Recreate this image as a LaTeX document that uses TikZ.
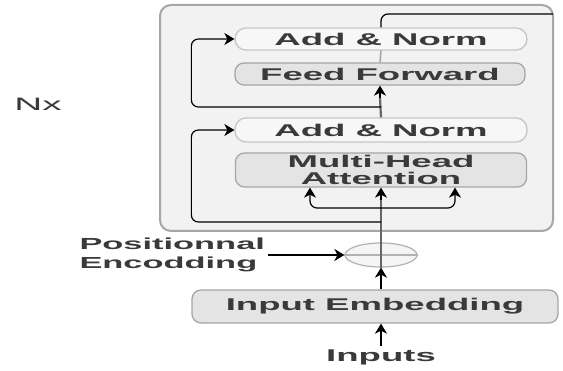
\documentclass[tikz,border=0pt]{standalone}
\usepackage{fontspec}
\newfontfamily\wf[FakeStretch=2.15]{Liberation Sans}
\usetikzlibrary{arrows.meta,shapes.geometric,calc}
\definecolor{txt}{HTML}{3A3A3A}
\definecolor{boxbg}{HTML}{F2F2F2}
\definecolor{lnorm}{HTML}{F7F7F7}
\definecolor{dnorm}{HTML}{E4E4E4}
\begin{document}
\begin{tikzpicture}[x=1pt,y=-1pt,
  lbl/.style={font=\wf\bfseries\fontsize{17}{17}\selectfont, text=txt},
  normbox/.style={lbl, draw=gray!45, line width=1.3pt, fill=lnorm, rounded corners=11pt, minimum height=22pt, inner sep=0pt},
  subbox/.style={lbl, draw=gray!70, line width=1.3pt, fill=dnorm, rounded corners=9pt, inner sep=0pt},
  tip/.style={-{Stealth[length=10pt,width=12pt,inset=3pt]}},
  mainln/.style={draw=gray!80!black, line width=2.2pt},
  resln/.style={draw=black, line width=1.2pt, rounded corners=7pt}
]
\useasboundingbox (0,0) rectangle (563,371);
\fill[white] (0,0) rectangle (563,371);
% outer block
\draw[gray!70, line width=2pt, fill=boxbg, rounded corners=11pt] (160,5) rectangle (553,231);
% nodes
\node[normbox, minimum width=292pt] (an1) at (381,39) {Add \& Norm};
\node[subbox, minimum width=290pt, minimum height=22pt] (ff) at (380,74) {Feed Forward};
\node[normbox, minimum width=292pt, minimum height=24pt] (an2) at (381,130) {Add \& Norm};
\node[subbox, minimum width=291pt, minimum height=34pt, align=center] (mha) at (381,170) {Multi-Head\\Attention};
\node[ellipse, draw=gray!60, line width=1.2pt, fill=gray!8, minimum width=72pt, minimum height=24pt, inner sep=0pt] (pe) at (381,255) {};
\node[subbox, minimum width=366pt, minimum height=33pt] (ie) at (375,306.5) {Input Embedding};
\node[lbl] (inp) at (381,357) {Inputs};
\node[lbl, anchor=west, align=left, font=\wf\bfseries\fontsize{16}{19}\selectfont] (pos) at (76,255) {Positionnal\\Encodding};
\node[lbl, font=\wf\fontsize{18}{18}\selectfont, text=txt] (nx) at (38,104) {Nx};
% coordinates
\coordinate (b1) at (381,208);
\coordinate (r1) at (381,222);
\coordinate (r2) at (381,107);
\coordinate (outr) at (553,14);
% plus sign in ellipse
\draw[gray!60, line width=1.2pt] (pe.west) -- (pe.east);
% positional encoding arrow
\draw[black, line width=1.2pt, tip] (pos.east |- pe.west) -- (pe.west);
% main path
\draw[line width=2.2pt, tip] (inp.north) -- (inp.north |- ie.south);
\draw[line width=2.2pt, tip] (pe.south |- ie.north) -- (pe.south);
\draw[mainln] (pe.south) -- (pe.north);
\draw[mainln] (pe.north) -- ([yshift=-12pt]mha.south);
\draw[black, line width=1.2pt, tip] ([yshift=-12pt]mha.south) -- (mha.south);
\draw[resln, tip] (b1) -| ([xshift=-71pt]mha.south);
\draw[resln, tip] (b1) -| ([xshift=74pt]mha.south);
\draw[resln, tip] (r1) -| ($(an2.west)+(-43pt,0)$) -- (an2.west);
\draw[mainln] (an2.north) -- ([yshift=-12pt]ff.south);
\draw[black, line width=1.2pt, tip] ([yshift=-12pt]ff.south) -- (ff.south);
\draw[resln, tip] (r2) -| ($(an1.west)+(-43pt,0)$) -- (an1.west);
\draw[gray!70, line width=1.6pt] (ff.north) -- (an1.south);
\draw[resln] (an1.north) |- (outr);
\end{tikzpicture}
\end{document}
